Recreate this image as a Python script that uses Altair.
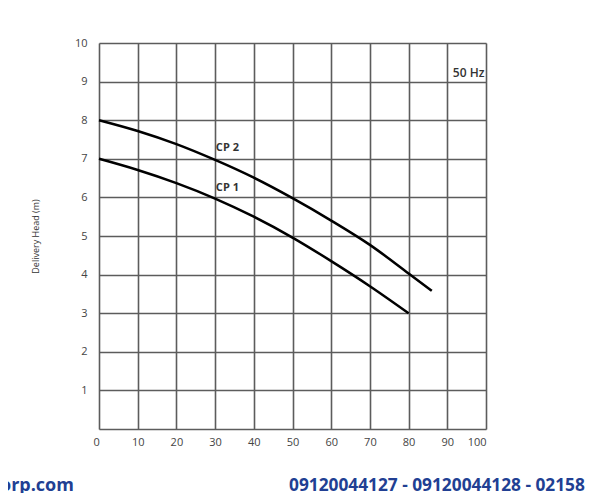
import altair as alt
import pandas as pd

# Flow (x) and delivery head (m)
cp2_flow = [0, 10, 20, 30, 40, 50, 60, 70, 80, 86]
cp2_head = [8.0, 7.72, 7.38, 6.97, 6.51, 5.98, 5.40, 4.77, 4.03, 3.58]
cp1_flow = [0, 10, 20, 30, 40, 50, 60, 70, 80]
cp1_head = [7.0, 6.71, 6.37, 5.97, 5.50, 4.96, 4.35, 3.70, 3.0]

x_ticks = list(range(0, 101, 10))
y_ticks = list(range(0, 11, 1))

labels_text = ["CP 2", "CP 1"]
labels_x = [30.2, 30.2]
labels_y = [7.27, 6.24]

freq_text = ["50 Hz"]
freq_x = [99.6]
freq_y = [9.22]

footer_left = "orp.com"
footer_right = "09120044127 - 09120044128 - 02158"

rows = []
for q, h in zip(cp2_flow, cp2_head):
    rows.append({"q": q, "h": h, "pump": "CP 2"})
for q, h in zip(cp1_flow, cp1_head):
    rows.append({"q": q, "h": h, "pump": "CP 1"})
df = pd.DataFrame(rows)

x_scale = alt.Scale(domain=[0, 100], nice=False, zero=False)
y_scale = alt.Scale(domain=[0, 10], nice=False, zero=False)

x_axis = alt.Axis(values=x_ticks, grid=True, gridColor="#5c5c5c", gridWidth=1.6,
                  domain=False, ticks=False, labelPadding=7, labelFontSize=11,
                  labelColor="#444", labelFont="Open Sans", title=None,
                  labelOverlap=False,
                  labelOffset=alt.ExprRef("datum.value == 0 ? -6 : 0"))
y_axis = alt.Axis(values=y_ticks, grid=True, gridColor="#5c5c5c", gridWidth=1.6,
                  domain=False, ticks=False, labelPadding=12, labelFontSize=11,
                  labelColor="#444", labelFont="Open Sans", labelOverlap=False,
                  labelExpr="datum.value == 0 ? '' : datum.label",
                  title="Delivery Head (m)", titleFontSize=9, titleFontWeight="normal",
                  titleColor="#333", titleFont="Open Sans", titlePadding=34)

lines = alt.Chart(df).mark_line(color="black", strokeWidth=2.5, interpolate="monotone").encode(
    x=alt.X("q:Q", scale=x_scale, axis=x_axis),
    y=alt.Y("h:Q", scale=y_scale, axis=y_axis),
    detail="pump:N",
)

lab_df = pd.DataFrame({"x": labels_x, "y": labels_y, "t": labels_text})
labels = alt.Chart(lab_df).mark_text(align="left", baseline="middle", fontSize=11,
                                     fontWeight="bold", font="Open Sans", color="#333").encode(
    x=alt.X("x:Q", scale=x_scale, axis=x_axis), y=alt.Y("y:Q", scale=y_scale, axis=y_axis), text="t:N")

fq_df = pd.DataFrame({"x": freq_x, "y": freq_y, "t": freq_text})
freq = alt.Chart(fq_df).mark_text(align="right", baseline="middle", fontSize=12,
                                  fontWeight=600, font="Open Sans", color="#333").encode(
    x=alt.X("x:Q", scale=x_scale, axis=x_axis), y=alt.Y("y:Q", scale=y_scale, axis=y_axis), text="t:N")

foot_df = pd.DataFrame({"t": [footer_left, footer_right], "side": ["l", "r"]})
foot_l = alt.Chart(foot_df).transform_filter("datum.side == 'l'").mark_text(
    align="left", baseline="alphabetic", fontSize=18, fontWeight="bold",
    font="Open Sans", color="#213f93").encode(
    x=alt.value(-99), y=alt.value(448), text="t:N")
foot_r = alt.Chart(foot_df).transform_filter("datum.side == 'r'").mark_text(
    align="left", baseline="alphabetic", fontSize=17.3, fontWeight="bold",
    font="Open Sans", color="#213f93").encode(
    x=alt.value(190), y=alt.value(448), text="t:N")

chart = alt.layer(lines, labels, freq, foot_l, foot_r).properties(
    width=387, height=386,
    autosize=alt.AutoSizeParams(type="none"),
    padding={"left": 91, "top": 35, "right": 106, "bottom": 64},
).configure_view(stroke="#5c5c5c", strokeWidth=1.6).configure(background="white")

chart.save("out.html", embed_options={"renderer": "svg", "actions": False})
